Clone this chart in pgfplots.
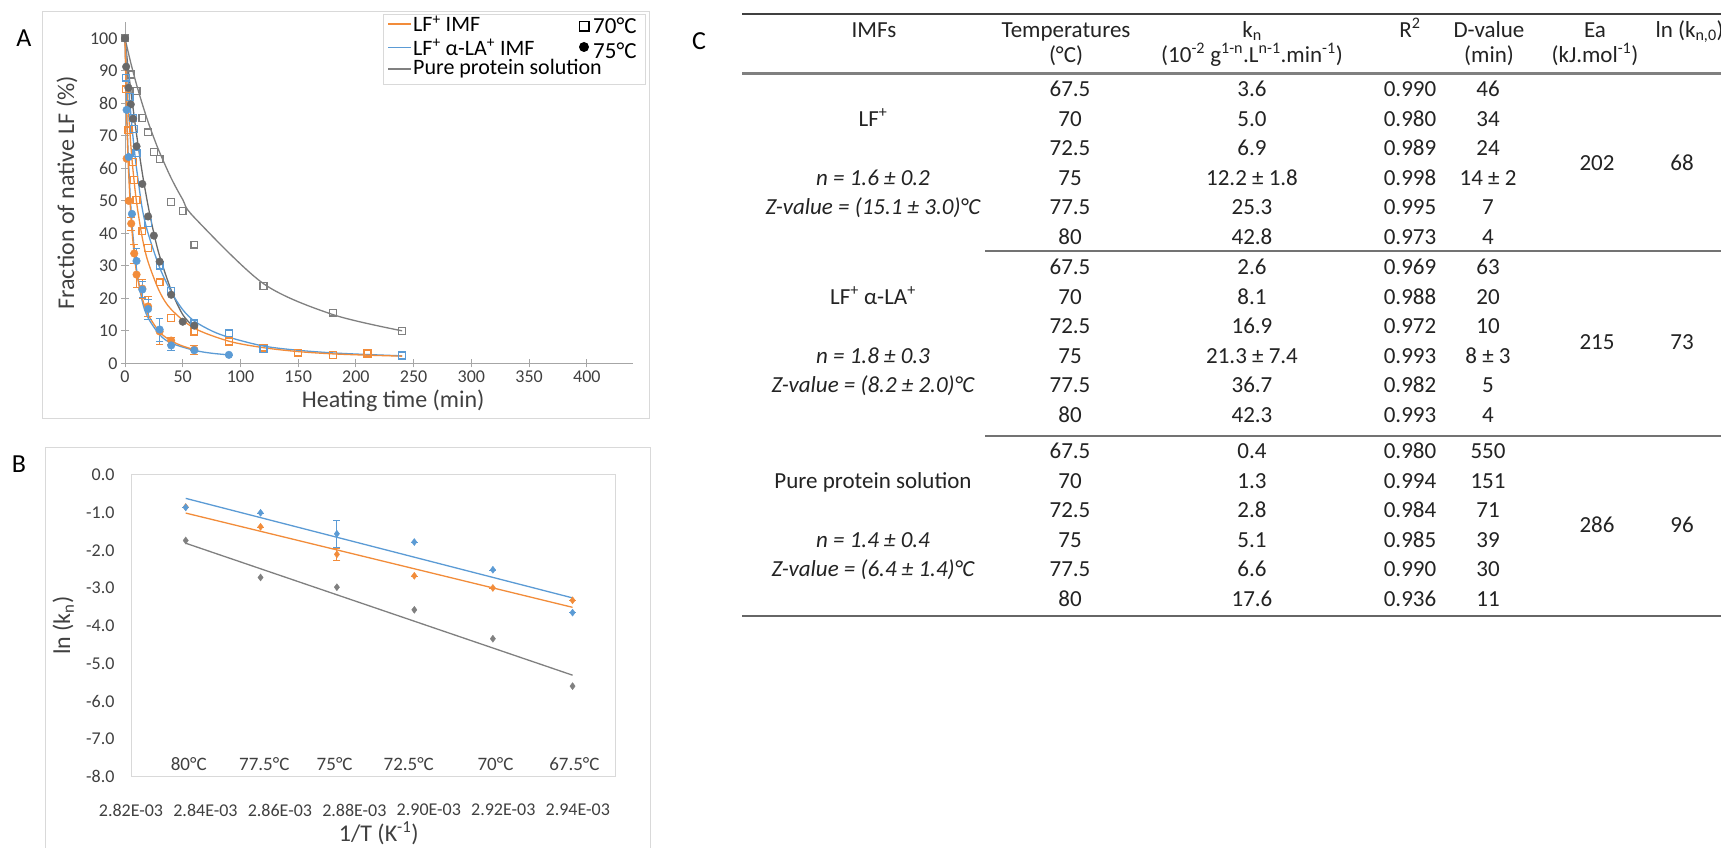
\documentclass[border=0pt]{standalone}
\usepackage{pgfplots}
\pgfplotsset{compat=1.18}
\usepackage{fontspec}
\setmainfont{Carlito}
\definecolor{xorange}{RGB}{242,140,58}
\definecolor{xblue}{RGB}{91,155,213}
\definecolor{xgray}{RGB}{128,128,128}
\definecolor{xdgray}{RGB}{105,105,105}
\definecolor{tickgray}{RGB}{64,64,64}
\definecolor{framegray}{RGB}{217,217,217}
\definecolor{axgray}{RGB}{166,166,166}
\definecolor{tabtext}{RGB}{35,35,35}
\newcommand{\fs}[1]{\fontsize{#1}{#1}\selectfont}
\newcommand{\tcell}[3]{\node[anchor=base,font=\fs{23},text=tabtext] at (#1,840.5-#2) {#3};}
\newcommand{\trow}[5]{\tcell{1070}{#1}{#2}\tcell{1252}{#1}{#3}\tcell{1410}{#1}{#4}\tcell{1488}{#1}{#5}}
\begin{document}
\begin{tikzpicture}[x=1pt,y=1pt]
\useasboundingbox (0,0) rectangle (1721,848);
\clip (0,0) rectangle (1721,848);
\fill[white] (0,0) rectangle (1721,848);
% frames
\draw[framegray, line width=1pt] (42,836) rectangle (649,429);
\draw[framegray, line width=1pt] (45,400) rectangle (650,-10);
\node[font=\fs{26}] at (24,810) {A};
\node[font=\fs{26}] at (19,384) {B};
\node[font=\fs{26}] at (699,807) {C};

% ---------------- Panel A ----------------
\begin{axis}[at={(125pt,484.7pt)}, anchor=south west, scale only axis,
  width=508pt, height=341.1pt,
  xmin=0, xmax=440, ymin=0, ymax=105,
  axis lines=left, axis line style={axgray, line width=1pt, -},
  xtick={0,50,...,400}, ytick={0,10,...,100},
  tick align=center, major tick length=8pt,
  tick style={axgray, line width=1pt},
  tick label style={font=\fs{18}, text=tickgray},
  /pgf/number format/assume math mode=true,
  xlabel={Heating time (min)}, ylabel={Fraction of native LF (\%)},
  label style={font=\fs{24}, text=tickgray},
  xlabel style={at={(axis description cs:0.528,-0.1085)}, anchor=center},
  ylabel style={at={(axis description cs:-0.114,0.5)}, anchor=center},
  clip=false,
]
% fitted curves
\addplot[xgray, line width=1.3pt, smooth, no marks] coordinates {(0,100)(5,92.5)(10,85.8)(15,79.8)(20,74.3)(25,69.4)(30,64.9)(40,57.0)(50,50.4)(60,44.9)(120,24.5)(180,15.0)(240,10.0)};
\addplot[xdgray, line width=1.3pt, smooth, no marks] coordinates {(0,100)(1,96.5)(3,90)(5,84)(7,78.5)(10,70.5)(15,58.5)(20,48.5)(25,40)(30,33)(40,22.5)(50,15)(60,11)};
\addplot[xblue, line width=1.3pt, smooth, no marks] coordinates {(0,100)(1,95)(2,90)(4,81)(6,73)(8,66)(10,60)(15,47.5)(20,40)(30,29.5)(40,22)(50,16.5)(60,13)(75,10)(90,8)(120,5.3)(150,4)(180,3.2)(210,2.7)(240,2.3)};
\addplot[xorange, line width=1.3pt, smooth, no marks] coordinates {(0,100)(1,91.6)(2,84.3)(3,77.9)(5,67.4)(7,59.2)(10,49.6)(15,38.6)(20,31.2)(30,22.0)(40,16.6)(60,10.8)(90,6.8)(120,4.8)(150,3.6)(180,2.9)(210,2.5)(240,2.2)};
\addplot[xblue, line width=1.3pt, smooth, no marks] coordinates {(0,100)(1,84)(2,71.9)(3,62.4)(5,48.7)(7,39)(10,29)(15,19)(20,14)(30,8.8)(40,6.2)(60,4.0)(75,3.1)(90,2.6)};
\addplot[xorange, line width=1.3pt, smooth, no marks] coordinates {(0,100)(1,82.4)(2,69.6)(3,59.8)(5,46)(7,37)(10,28)(15,20)(20,15)(30,9.6)(40,6.9)(50,5.3)(60,4.2)};
% data 70 C (open squares)
\addplot[xgray, only marks, mark=square, mark size=3.4pt, line width=1.3pt] coordinates {(0,100)(5,88.9)(10,83.8)(15,75.5)(20,71.1)(25,65)(30,62.9)(40,49.6)(50,46.9)(60,36.5)(120,23.8)(180,15.6)(240,9.9)};
\addplot[xorange, only marks, mark=square, mark size=3.4pt, line width=1.3pt] coordinates {(1,84.3)(3,71.7)(7,61.9)(8,56.4)(10,50.3)(15,40.6)(20,35.5)(30,24.9)(40,13.9)(60,9.8)(90,6.7)(120,4.8)(150,3.3)(180,2.5)(210,3.0)(240,2.4)};
\addplot[xblue, only marks, mark=square, mark size=3.4pt, line width=1.3pt] coordinates {(1,87.9)(4,82)(7,75.6)(8,72.1)(10,64.6)(20,43.2)(30,30.1)(40,22.3)(60,12.3)(90,9.2)(120,4.4)(240,2.4)};
% data 75 C (filled circles)
\addplot[xdgray, only marks, mark=*, mark size=3.8pt] coordinates {(0,100)(1,91.3)(3,84.8)(5,79.7)(7,75.3)(10,66.8)(15,55.2)(20,45.2)(25,39.3)(30,31.3)(40,21.1)(50,12.8)(60,11.6)};
\addplot[xorange, only marks, mark=*, mark size=3.8pt, error bars/.cd, y dir=both, y explicit, error bar style={line width=1pt}] coordinates {(1.4,63) +- (0,0) (3.2,50) +- (0,0) (5.4,43) +- (0,2) (8,33.8) +- (0,3) (10,27.3) +- (0,4) (15,23) +- (0,3) (20,17.5) +- (0,3) (30,9.8) +- (0,4) (40,7.0) +- (0,1) (60,4.2) +- (0,1.5)};
\addplot[xblue, only marks, mark=*, mark size=3.8pt, error bars/.cd, y dir=both, y explicit, error bar style={line width=1pt}] coordinates {(1.4,78) +- (0,0) (3.2,63.5) +- (0,0) (6,46) +- (0,0) (10,31.5) +- (0,4) (15,22.7) +- (0,2.5) (20,16.7) +- (0,3) (30,10.4) +- (0,3.5) (40,5.5) +- (0,1.5) (60,4.0) +- (0,0) (90,2.6) +- (0,0)};
\end{axis}

% legend A
\draw[framegray, line width=1pt, fill=white] (383,833) rectangle (645,763);
\draw[xorange, line width=1.5pt] (388,824) -- (411,824);
\draw[xblue, line width=1.5pt] (388,800.5) -- (411,800.5);
\draw[xgray, line width=1.5pt] (388,779) -- (411,779);
\node[anchor=west, font=\fs{22}, inner sep=0pt] at (413,824) {LF\textsuperscript{+} IMF};
\node[anchor=west, font=\fs{22}, inner sep=0pt] at (413,800.5) {LF\textsuperscript{+} α-LA\textsuperscript{+} IMF};
\node[anchor=west, font=\fs{22}, inner sep=0pt] at (413,779) {Pure protein solution};
\draw[black, line width=1.6pt] (579.5,817) rectangle (589,826.5);
\fill[black] (584,801) circle (5pt);
\node[anchor=west, font=\fs{23}, inner sep=0pt] at (593,822) {70°C};
\node[anchor=west, font=\fs{23}, inner sep=0pt] at (593,797) {75°C};

% ---------------- Panel B ----------------
\begin{axis}[at={(131pt,71.4pt)}, anchor=south west, scale only axis,
  width=484pt, height=301.6pt,
  xmin=2.82, xmax=2.95, ymin=-8, ymax=0,
  axis line style={framegray, line width=1pt},
  xtick={2.82,2.84,2.86,2.88,2.90,2.92,2.94},
  xticklabels={2.82E-03,2.84E-03,2.86E-03,2.88E-03,2.90E-03,2.92E-03,2.94E-03},
  ytick={-8,-7,-6,-5,-4,-3,-2,-1,0},
  yticklabels={-8.0,-7.0,-6.0,-5.0,-4.0,-3.0,-2.0,-1.0,0.0},
  major tick length=0pt,
  tick label style={font=\fs{18}, text=tickgray},
  xticklabel style={yshift=-24pt},
  yticklabel style={xshift=-13pt},
  xlabel={1/T (K\textsuperscript{-1})}, ylabel={ln (k\textsubscript{n})},
  label style={font=\fs{24}, text=tickgray},
  xlabel style={at={(axis description cs:0.512,-0.187)}, anchor=center},
  ylabel style={at={(axis description cs:-0.14,0.5)}, anchor=center},
  clip=false,
]
\addplot[xgray, line width=1.3pt, no marks] coordinates {(2.8347,-1.81)(2.9386,-5.31)};
\addplot[xorange, line width=1.3pt, no marks] coordinates {(2.8347,-1.01)(2.9386,-3.51)};
\addplot[xblue, line width=1.3pt, no marks] coordinates {(2.8347,-0.62)(2.9386,-3.26)};
\addplot[xgray, only marks, mark=diamond*, mark size=3.5pt] coordinates {(2.8347,-1.737)(2.8548,-2.718)(2.8753,-2.976)(2.8961,-3.576)(2.9172,-4.343)(2.9386,-5.60)};
\addplot[xorange, only marks, mark=diamond*, mark size=3.5pt, error bars/.cd, y dir=both, y explicit, error bar style={line width=1pt}] coordinates {(2.8347,-0.849) +- (0,0) (2.8548,-1.374) +- (0,0) (2.8753,-2.104) +- (0,0.16) (2.8961,-2.674) +- (0,0) (2.9172,-2.996) +- (0,0) (2.9386,-3.324) +- (0,0)};
\addplot[xblue, only marks, mark=diamond*, mark size=3.5pt, error bars/.cd, y dir=both, y explicit, error bar style={line width=1pt}] coordinates {(2.8347,-0.860) +- (0,0) (2.8548,-1.002) +- (0,0) (2.8753,-1.560) +- (0,0.35) (2.8961,-1.778) +- (0,0) (2.9172,-2.513) +- (0,0) (2.9386,-3.650) +- (0,0)};
\node[font=\fs{19}, text=tickgray] at (axis cs:2.8355,-7.68) {80°C};
\node[font=\fs{19}, text=tickgray] at (axis cs:2.8558,-7.68) {77.5°C};
\node[font=\fs{19}, text=tickgray] at (axis cs:2.8747,-7.68) {75°C};
\node[font=\fs{19}, text=tickgray] at (axis cs:2.8946,-7.68) {72.5°C};
\node[font=\fs{19}, text=tickgray] at (axis cs:2.9179,-7.68) {70°C};
\node[font=\fs{19}, text=tickgray] at (axis cs:2.9391,-7.68) {67.5°C};
\end{axis}

% ---------------- Panel C (table) ----------------
\draw[black!75, line width=1.3pt] (742,834) -- (1721,834);
\draw[black!50, line width=2.5pt] (742,774.5) -- (1721,774.5);
\draw[black!55, line width=1.8pt] (985,597) -- (1721,597);
\draw[black!55, line width=1.8pt] (985,412) -- (1721,412);
\draw[black!60, line width=1.8pt] (742,232) -- (1721,232);
% header
\tcell{874}{29.6}{IMFs}
\tcell{1066}{29.6}{Temperatures}
\tcell{1066}{55}{(°C)}
\tcell{1252}{29.6}{k\textsubscript{n}}
\tcell{1252}{55}{(10\textsuperscript{-2} g\textsuperscript{1-n}.L\textsuperscript{n-1}.min\textsuperscript{-1})}
\tcell{1410}{29.6}{R\textsuperscript{2}}
\tcell{1489}{29.6}{D-value}
\tcell{1489}{55}{(min)}
\tcell{1595}{29.6}{Ea}
\tcell{1595}{55}{(kJ.mol\textsuperscript{-1})}
\node[anchor=base west,font=\fs{23},text=tabtext] at (1652,840.5-29.6) {ln (k\textsubscript{n,0})};
% group 1
\trow{89}{67.5}{3.6}{0.990}{46}
\trow{118.6}{70}{5.0}{0.980}{34}
\trow{148.2}{72.5}{6.9}{0.989}{24}
\trow{177.8}{75}{12.2 ± 1.8}{0.998}{14 ± 2}
\trow{207.4}{77.5}{25.3}{0.995}{7}
\trow{237}{80}{42.8}{0.973}{4}
\tcell{873}{118.6}{LF\textsuperscript{+}}
\tcell{873}{177.8}{\itshape n = 1.6 ± 0.2}
\tcell{873}{207.4}{\itshape Z-value = (15.1 ± 3.0)°C}
\tcell{1597}{163}{202}
\tcell{1682}{163}{68}
% group 2
\trow{267}{67.5}{2.6}{0.969}{63}
\trow{296.6}{70}{8.1}{0.988}{20}
\trow{326.2}{72.5}{16.9}{0.972}{10}
\trow{355.8}{75}{21.3 ± 7.4}{0.993}{8 ± 3}
\trow{385.4}{77.5}{36.7}{0.982}{5}
\trow{415}{80}{42.3}{0.993}{4}
\tcell{873}{296.6}{LF\textsuperscript{+} α-LA\textsuperscript{+}}
\tcell{873}{355.8}{\itshape n = 1.8 ± 0.3}
\tcell{873}{385.4}{\itshape Z-value = (8.2 ± 2.0)°C}
\tcell{1597}{342}{215}
\tcell{1682}{342}{73}
% group 3
\trow{451}{67.5}{0.4}{0.980}{550}
\trow{480.6}{70}{1.3}{0.994}{151}
\trow{510.2}{72.5}{2.8}{0.984}{71}
\trow{539.8}{75}{5.1}{0.985}{39}
\trow{569.4}{77.5}{6.6}{0.990}{30}
\trow{599}{80}{17.6}{0.936}{11}
\tcell{873}{480.6}{Pure protein solution}
\tcell{873}{539.8}{\itshape n = 1.4 ± 0.4}
\tcell{873}{569.4}{\itshape Z-value = (6.4 ± 1.4)°C}
\tcell{1597}{525}{286}
\tcell{1682}{525}{96}
\end{tikzpicture}
\end{document}
